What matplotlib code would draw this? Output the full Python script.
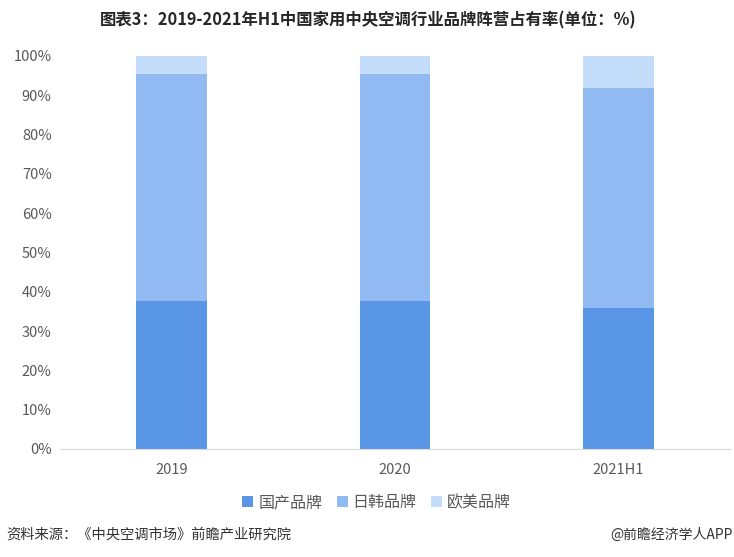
import matplotlib
matplotlib.use("Agg")
import matplotlib.pyplot as plt
from matplotlib.ticker import FuncFormatter
import numpy as np

plt.rcParams['font.family'] = ['Noto Sans CJK SC', 'DejaVu Sans']

categories = ["2019", "2020", "2021H1"]
domestic = [37.7, 37.7, 35.9]
japan_korea = [57.7, 57.7, 56.0]
europe_us = [4.6, 4.6, 8.1]
series_names = ["国产品牌", "日韩品牌", "欧美品牌"]
colors = ["#5A96E6", "#91BAF3", "#C3DDFA"]

fig = plt.figure(figsize=(7.34, 5.57), dpi=100)
ax = fig.add_axes([0.0817, 0.1939, 0.9129, 0.7056])

x = np.arange(len(categories))
w = 0.315
b1 = ax.bar(x, domestic, w, color=colors[0], label=series_names[0])
b2 = ax.bar(x, japan_korea, w, bottom=domestic, color=colors[1], label=series_names[1])
bottom3 = [a + b for a, b in zip(domestic, japan_korea)]
b3 = ax.bar(x, europe_us, w, bottom=bottom3, color=colors[2], label=series_names[2])

ax.set_xlim(-0.5, 2.5)
ax.set_ylim(0, 100)
ax.set_yticks(np.arange(0, 101, 10))
ax.yaxis.set_major_formatter(FuncFormatter(lambda v, p: f"{int(v)}%"))
ax.set_xticks(x)
ax.set_xticklabels(categories)
for s in ["top", "right", "left"]:
    ax.spines[s].set_visible(False)
ax.spines["bottom"].set_color("#D9D9D9")
ax.tick_params(axis="both", length=0, colors="#595959", labelsize=10.5)
ax.tick_params(axis="x", pad=10)
ax.tick_params(axis="y", pad=6)

fig.text(0.502, 0.963, "图表3：2019-2021年H1中国家用中央空调行业品牌阵营占有率(单位：%)",
         ha="center", va="center", fontsize=11.8, fontweight="bold", color="#262626")

leg = fig.legend(handles=[b1, b2, b3], labels=series_names, loc="center",
                 bbox_to_anchor=(0.513, 0.098), ncol=3, frameon=False,
                 fontsize=11.5, handlelength=0.7, handleheight=0.7,
                 handletextpad=0.3, columnspacing=0.9)
for t in leg.get_texts():
    t.set_color("#595959")

fig.text(0.008, 0.04, "资料来源：《中央空调市场》前瞻产业研究院", ha="left", va="center",
         fontsize=10.3, color="#333333")
fig.text(0.998, 0.04, "@前瞻经济学人APP", ha="right", va="center",
         fontsize=10, color="#333333")

fig.savefig("out.png", dpi=100)
